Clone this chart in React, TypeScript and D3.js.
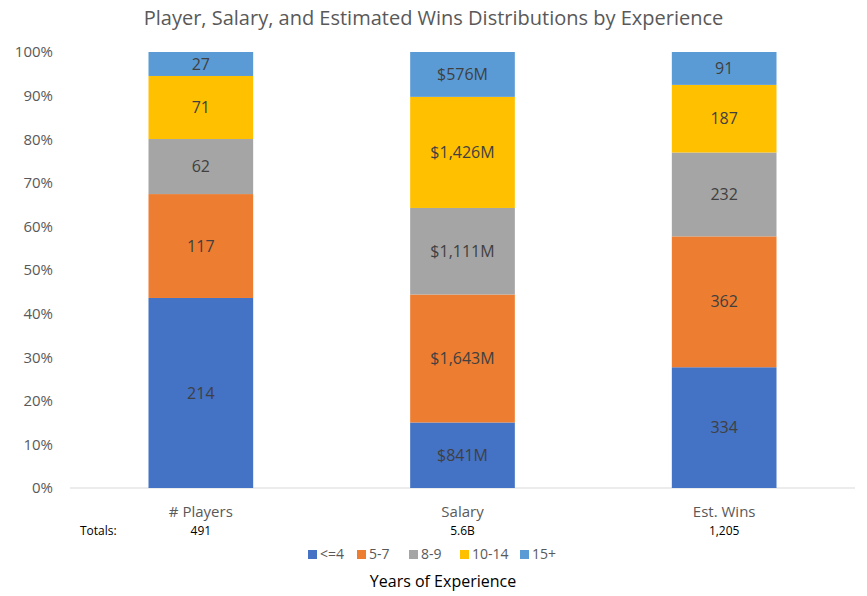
import { useEffect, useRef } from 'react';
import * as d3 from 'd3';

const categories = ['# Players', 'Salary', 'Est. Wins'];
const groups = ['<=4', '5-7', '8-9', '10-14', '15+'];
const players = [214, 117, 62, 71, 27];
const salary = [841, 1643, 1111, 1426, 576];
const wins = [334, 362, 232, 187, 91];
const totals = ['491', '5.6B', '1,205'];
const colors = ['#4472C4', '#ED7D31', '#A5A5A5', '#FFC000', '#5B9BD5'];

const W = 867;
const H = 596;
const PLOT = { left: 70, right: 855, top: 52, bottom: 488 };

export default function App() {
  const svgRef = useRef<SVGSVGElement>(null);

  useEffect(() => {
    if (!svgRef.current) return;
    const svg = d3.select(svgRef.current);
    svg.selectAll('*').remove();
    const font = 'Segoe UI, "Open Sans", "Noto Sans", sans-serif';

    const x = d3.scaleBand<string>().domain(categories).range([PLOT.left, PLOT.right]).paddingInner(0.6).paddingOuter(0.3);
    const y = d3.scaleLinear().domain([0, 1]).range([PLOT.bottom, PLOT.top]);

    svg.append('text').attr('x', W / 2).attr('y', 25).attr('text-anchor', 'middle')
      .attr('font-family', font).attr('font-size', 20).attr('fill', '#595959')
      .text('Player, Salary, and Estimated Wins Distributions by Experience');

    const yAxis = svg.append('g').attr('transform', `translate(${PLOT.left - 14},0)`)
      .call(d3.axisLeft(y).ticks(10).tickFormat(d3.format('.0%')).tickSize(0));
    yAxis.select('.domain').remove();
    yAxis.selectAll('text').attr('font-family', font).attr('font-size', 15).attr('fill', '#595959');

    svg.append('line').attr('x1', PLOT.left).attr('x2', PLOT.right)
      .attr('y1', PLOT.bottom).attr('y2', PLOT.bottom).attr('stroke', '#d9d9d9');

    const series = [players, salary, wins];
    series.forEach((vals, ci) => {
      const total = d3.sum(vals);
      let acc = 0;
      vals.forEach((v, gi) => {
        const y0 = acc / total;
        acc += v;
        const y1 = acc / total;
        const bx = x(categories[ci]) ?? 0;
        svg.append('rect').attr('x', bx).attr('width', x.bandwidth())
          .attr('y', y(y1)).attr('height', y(y0) - y(y1)).attr('fill', colors[gi]);
        const label = ci === 1 ? `$${d3.format(',')(v)}M` : d3.format(',')(v);
        svg.append('text').attr('x', bx + x.bandwidth() / 2).attr('y', (y(y0) + y(y1)) / 2)
          .attr('dy', '0.35em').attr('text-anchor', 'middle').attr('font-family', font)
          .attr('font-size', 16).attr('fill', '#404040').text(label);
      });
      const cx = (x(categories[ci]) ?? 0) + x.bandwidth() / 2;
      svg.append('text').attr('x', cx).attr('y', 517).attr('text-anchor', 'middle')
        .attr('font-family', font).attr('font-size', 15).attr('fill', '#595959').text(categories[ci]);
      svg.append('text').attr('x', cx).attr('y', 535).attr('text-anchor', 'middle')
        .attr('font-family', font).attr('font-size', 12).attr('fill', '#000').text(totals[ci]);
    });

    svg.append('text').attr('x', 80).attr('y', 535).attr('font-family', font)
      .attr('font-size', 12).attr('fill', '#000').text('Totals:');

    // legend
    const legendX = [308, 357, 409, 460, 520];
    groups.forEach((g, i) => {
      svg.append('rect').attr('x', legendX[i]).attr('y', 550).attr('width', 9).attr('height', 9).attr('fill', colors[i]);
      svg.append('text').attr('x', legendX[i] + 12).attr('y', 559).attr('font-family', font)
        .attr('font-size', 14).attr('fill', '#595959').text(g);
    });

    svg.append('text').attr('x', 443).attr('y', 587).attr('text-anchor', 'middle')
      .attr('font-family', font).attr('font-size', 16).attr('fill', '#000').text('Years of Experience');
  }, []);

  return <svg ref={svgRef} width={W} height={H} style={{ position: 'absolute', left: 0, top: 0, background: '#fff' }} />;
}
